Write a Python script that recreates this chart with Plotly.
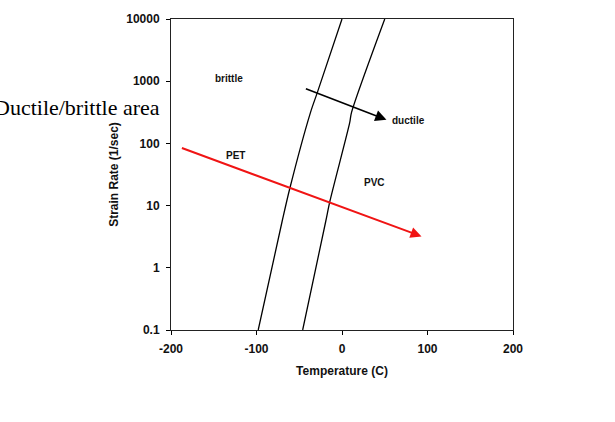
import plotly.graph_objects as go
import numpy as np

# PET transition curve (temperature C, strain rate 1/s)
pet_T = [-98, -70, -61, -37, -29, 0]
pet_R = [0.1, 5.6, 19, 310, 650, 10000]
# PVC transition curve
pvc_T = [-46, -19, -14, 9, 11, 50]
pvc_R = [0.1, 5.6, 12, 215, 310, 10000]

x_ticks = [-200, -100, 0, 100, 200]
x_tick_text = ["-200", "-100", "0", "100", "200"]
y_ticks = [0.1, 1, 10, 100, 1000, 10000]
y_tick_text = ["0.1", "1", "10", "100", "1000", "10000"]

# arrows: (start T, start R) -> (end T, end R)
black_arrow = [(-44, 774), (52, 240)]
red_arrow = [(-189, 86), (93, 3.2)]

labels = ["brittle", "ductile", "PET", "PVC"]
label_T = [-132, 78, -124, 38]
label_R = [1120, 232, 65, 23.4]

fig = go.Figure()
for T, R in [(pet_T, pet_R), (pvc_T, pvc_R)]:
    fig.add_trace(go.Scatter(x=T, y=R, mode="lines",
                             line=dict(color="black", width=1.3, shape="spline", smoothing=0.8),
                             showlegend=False, hoverinfo="skip"))

for (s, e), col, w, hs in [(black_arrow, "black", 1.6, 1.4), (red_arrow, "#f01414", 2, 1.1)]:
    fig.add_annotation(x=e[0], y=np.log10(e[1]), ax=s[0], ay=np.log10(s[1]),
                       xref="x", yref="y", axref="x", ayref="y",
                       showarrow=True, arrowhead=2, arrowsize=hs, arrowwidth=w,
                       arrowcolor=col, text="")

for t, xx, yy in zip(labels, label_T, label_R):
    fig.add_annotation(x=xx, y=np.log10(yy), xref="x", yref="y", text="<b>" + t + "</b>",
                       showarrow=False,
                       font=dict(family="Liberation Sans, Arial", size=10, color="#111"))

pw = 615 - 171 - 102
ph = 422 - 15 - 92
fig.add_annotation(x=(162 - 171) / pw, y=(330 - 105) / ph, xref="paper", yref="paper",
                   text="Ductile/brittle area",
                   showarrow=False, xanchor="right", yanchor="middle",
                   font=dict(family="Liberation Serif, Times New Roman", size=22, color="black"))

fig.update_layout(
    width=615, height=422,
    margin=dict(l=171, r=102, t=15, b=92),
    paper_bgcolor="white", plot_bgcolor="white",
    font=dict(family="Liberation Sans, Arial", color="#111"),
)

fig.update_xaxes(range=[-200, 200], tickvals=x_ticks,
                 ticktext=["<b>" + s + "</b>" for s in x_tick_text],
                 ticks="outside", ticklen=4,
                 tickcolor="black", showline=True, linecolor="#222", linewidth=1,
                 mirror=True, showgrid=False, zeroline=False,
                 tickfont=dict(size=12), ticklabelstandoff=4,
                 title=dict(text="<b>Temperature (C)</b>", font=dict(size=12), standoff=11))
fig.update_yaxes(type="log", range=[-1, 4], tickvals=y_ticks,
                 ticktext=["<b>" + s + "</b>" for s in y_tick_text],
                 ticks="outside", ticklen=4, tickcolor="black",
                 showline=True, linecolor="#222", linewidth=1, mirror=True,
                 showgrid=False, zeroline=False, tickfont=dict(size=12),
                 ticklabelstandoff=4,
                 title=dict(text="<b>Strain Rate (1/sec)</b>", font=dict(size=12), standoff=5))

fig.write_html("out.html")
